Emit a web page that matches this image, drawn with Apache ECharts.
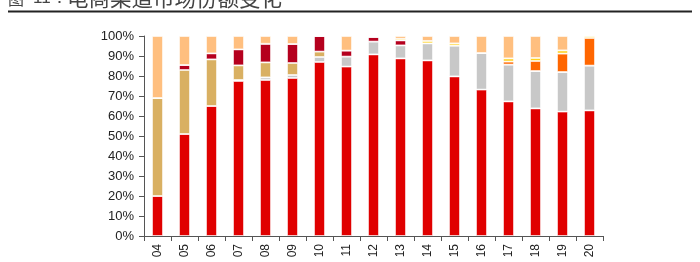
<!DOCTYPE html>
<html>
<head>
<meta charset="utf-8">
<script src="https://cdn.jsdelivr.net/npm/echarts@6/dist/echarts.min.js"></script>
<style>html,body{margin:0;padding:0;background:#fff}#c{width:700px;height:262px}</style>
</head>
<body>
<div id="c"></div>
<script>
const categories = ['04','05','06','07','08','09','10','11','12','13','14','15','16','17','18','19','20'];
const yTicks = ['0%','10%','20%','30%','40%','50%','60%','70%','80%','90%','100%'];
const s1 = [20, 51, 65, 77.5, 78, 79, 87, 84.7, 90.8, 88.8, 87.8, 79.8, 73.2, 67.3, 63.8, 62.2, 62.8];
const s2 = [0, 0, 0, 0.5, 1.3, 1.5, 2.5, 5, 6.4, 6.5, 8.5, 15.4, 18.3, 18.4, 18.7, 19.8, 22.4];
const s3 = [49, 32, 23.3, 7.3, 7.5, 6, 2.7, 0, 0, 0, 0, 0, 0, 0, 0, 0, 0];
const s4 = [0, 2.5, 3, 8, 9.3, 9.5, 7.8, 3, 2.3, 2.5, 0, 0, 0, 0, 0, 0, 0];
const s5 = [0, 0, 0, 0, 0, 0, 0, 0, 0, 0, 0, 0, 0, 1.5, 5, 9.2, 13.8];
const s6 = [0, 0, 0, 0, 0, 0, 0, 0, 0, 0.8, 1.2, 1.1, 0, 1.6, 1.5, 1.6, 1];
const s7 = [31, 14.5, 8.7, 6.7, 3.9, 4, 0, 7.3, 0.5, 1.4, 2.5, 3.7, 8.5, 11.2, 11, 7.2, 0];
const seriesNames = ['系列1','系列2','系列3','系列4','系列5','系列6','系列7'];
const seriesData = [s1,s2,s3,s4,s5,s6,s7];
const colors = ['#E00000','#C8C8C8','#D9B062','#B5001E','#FF6600','#FFD21F','#FFBF7F'];

const chart = echarts.init(document.getElementById('c'), null, {renderer:'canvas'});
chart.setOption({
  animation: false,
  graphic: [
    {type:'text', left: 8, top: -9, style:{text:'图', font:'16px "Noto Sans CJK SC"', fill:'#444'}},
    {type:'text', left: 33, top: -10, style:{text:'11：', font:'17px "Liberation Sans"', fill:'#444'}},
    {type:'text', left: 67, top: -13, style:{text:'电商渠道市场份额变化', font:'21.5px "Noto Sans CJK SC"', fill:'#444'}},
    {type:'line', shape:{x1:8, y1:11.5, x2:692, y2:11.5}, style:{stroke:'#222', lineWidth:2}}
  ],
  grid: {left:144, right:97, top:36, bottom:26},
  xAxis: {
    type:'category', data: categories, boundaryGap:true,
    axisLine:{lineStyle:{color:'#555', width:1}},
    axisTick:{show:true, alignWithLabel:false, length:5, lineStyle:{color:'#555'}},
    axisLabel:{rotate:90, color:'#222', fontSize:12, fontFamily:'Liberation Sans, Arial', margin:8, interval:0}
  },
  yAxis: {
    type:'value', min:0, max:100, interval:10,
    axisLine:{show:true, lineStyle:{color:'#555'}},
    axisTick:{show:true, length:5, lineStyle:{color:'#555'}},
    splitLine:{show:false},
    axisLabel:{color:'#222', fontSize:13, fontFamily:'Liberation Sans, Arial', margin:10,
      formatter: v => yTicks[Math.round(v/10)]}
  },
  series: seriesData.map((d,i)=>({
    name: seriesNames[i], type:'bar', stack:'total', data:d, barWidth:11,
    itemStyle:{color:colors[i], borderColor:'rgba(255,255,255,0.55)', borderWidth:1}
  }))
});
</script>
</body>
</html>
